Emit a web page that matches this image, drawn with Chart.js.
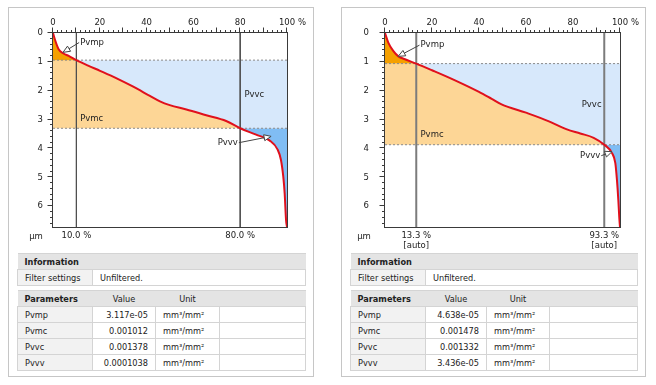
<!DOCTYPE html>
<html>
<head>
<meta charset="utf-8">
<script src="https://cdn.jsdelivr.net/npm/chart.js@4.4.1/dist/chart.umd.min.js"></script>
<style>
body { margin: 0; background: #fff; font-family: "DejaVu Sans", sans-serif; width: 656px; height: 385px; position: relative; overflow: hidden; }
.panel { position: absolute; top: 7px; height: 370px; border: 1px solid #c6c6c6; box-sizing: border-box; }
canvas { position: absolute; }
table { position: absolute; border-collapse: collapse; table-layout: fixed; font-size: 8.2px; color: #222; }
td { height: 15px; padding: 0 7px; border: 1px solid #d4d4d4; white-space: nowrap; overflow: hidden; }
tr.h td { background: #e4e4e4; border-left: none; border-right: none; font-weight: normal; }
tr.h td b { font-weight: bold; }
td.k { background: #f2f2f2; }
td.v { text-align: right; }
td.c { text-align: center; }
</style>
</head>
<body>
<div class="panel" style="left:8px;width:306px"></div>
<div class="panel" style="left:341px;width:305px"></div>
<canvas id="chartA" width="304" height="245" style="left:9px;top:8px"></canvas>
<canvas id="chartB" width="303" height="245" style="left:342px;top:8px"></canvas>
<div id="tables"></div>
<script>
// material ratio curves (material ratio %, depth µm)
const pctA = [0, 1, 2.4, 4.5, 6.7, 10, 15, 20.1, 27.2, 34.3, 41.4, 45.7, 49.9, 57, 65.5, 74, 80, 86.8, 92.5, 96, 97.4, 98.4, 99, 99.6, 100];
const depthA = [0, 0.27, 0.56, 0.71, 0.79, 0.94, 1.13, 1.31, 1.57, 1.86, 2.18, 2.37, 2.50, 2.65, 2.85, 3.05, 3.30, 3.52, 3.72, 4.04, 4.39, 4.97, 5.55, 6.48, 6.72];
const pctB = [0, 1.4, 3.5, 5.7, 8.5, 13.3, 20, 29.8, 40, 45.4, 49.6, 60, 69.5, 77.4, 83.1, 88.8, 93.3, 96.6, 98, 98.7, 99.3, 99.7, 100];
const depthB = [0, 0.33, 0.62, 0.81, 0.91, 1.06, 1.29, 1.64, 2.04, 2.28, 2.47, 2.76, 3.05, 3.34, 3.48, 3.63, 3.87, 4.16, 4.5, 5.09, 5.8, 6.4, 6.72];

// cut depths (µm) and material ratios (%)
const cutsA = [0.94, 3.30];
const ratiosA = [10.0, 80.0];
const cutsB = [1.06, 3.87];
const ratiosB = [13.3, 93.3];
const depthMax = 6.72;

const params = ['Pvmp', 'Pvmc', 'Pvvc', 'Pvvv'];
const valuesA = ['3.117e-05', '0.001012', '0.001378', '0.0001038'];
const valuesB = ['4.638e-05', '0.001478', '0.001332', '3.436e-05'];
const unit = 'mm³/mm²';

Chart.defaults.font.family = 'DejaVu Sans';
Chart.defaults.font.size = 8.5;
Chart.defaults.color = '#222';

const decor = {
  id: 'decor',
  afterDatasetsDraw(chart, args, o) {
    const ctx = chart.ctx, a = chart.chartArea, x = chart.scales.x, y = chart.scales.y;
    ctx.save();
    ctx.strokeStyle = '#3a3a3a';
    ctx.lineWidth = 1;
    ctx.strokeRect(a.left - 0.5, a.top - 0.5, a.right - a.left + 1, a.bottom - a.top + 1);
    ctx.beginPath();
    for (let v = 0; v <= 100; v += 2) {
      const px = Math.round(x.getPixelForValue(v)) - 0.5;
      const len = v % 10 === 0 ? 5 : 2.5;
      ctx.moveTo(px, a.top - 0.5);
      ctx.lineTo(px, a.top - 0.5 - len);
    }
    for (let i = 0; i <= 33; i++) {
      const py = Math.round(y.getPixelForValue(i / 5)) - 0.5;
      const len = i % 5 === 0 ? 5 : 2.5;
      ctx.moveTo(a.left - 0.5, py);
      ctx.lineTo(a.left - 0.5 - len, py);
    }
    ctx.stroke();

    ctx.font = '8.5px "DejaVu Sans"';
    ctx.fillStyle = '#222';
    ctx.textBaseline = 'middle';
    // unit after the 100 tick label
    ctx.textAlign = 'left';
    ctx.fillText('%', x.getPixelForValue(100) + ctx.measureText('100').width / 2 + 3, a.top - 10);
    // bottom labels
    ctx.textAlign = 'center';
    ctx.fillText('µm', a.left + o.umDx, a.bottom + 10);
    o.ratios.forEach(r => {
      const px = x.getPixelForValue(r);
      ctx.fillText(r.toFixed(1) + ' %', px, a.bottom + 9);
      if (o.auto) ctx.fillText('[auto]', px, a.bottom + 19);
    });

    // region labels and arrows
    o.notes.forEach(n => {
      const tx = x.getPixelForValue(n.tx), ty = y.getPixelForValue(n.ty);
      ctx.fillStyle = '#222';
      ctx.textAlign = n.align;
      ctx.fillText(n.text, tx, ty);
      if (n.ax === undefined) return;
      const sx = n.align === 'left' ? tx - 1 : tx + 1;
      const ex = x.getPixelForValue(n.ax), ey = y.getPixelForValue(n.ay);
      const dx = ex - sx, dy = ey - ty, d = Math.hypot(dx, dy);
      const ux = dx / d, uy = dy / d;
      ctx.strokeStyle = '#444';
      ctx.beginPath();
      ctx.moveTo(sx, ty);
      ctx.lineTo(ex - ux * 7, ey - uy * 7);
      ctx.stroke();
      ctx.beginPath();
      ctx.moveTo(ex, ey);
      ctx.lineTo(ex - ux * 7 - uy * 3, ey - uy * 7 + ux * 3);
      ctx.lineTo(ex - ux * 7 + uy * 3, ey - uy * 7 - ux * 3);
      ctx.closePath();
      ctx.fillStyle = '#fff';
      ctx.fill();
      ctx.stroke();
    });
    ctx.restore();
  }
};

function makeChart(id, pct, depth, cuts, ratios, lay) {
  const pts = pct.map((v, i) => ({x: v, y: depth[i]}));
  const up = cuts[0], lo = cuts[1];
  const mid = pts.map(p => ({x: p.x, y: Math.min(Math.max(p.y, up), lo)}));
  const peak = pts.filter(p => p.y <= up);
  const valley = pts.filter(p => p.y >= lo);
  const W = document.getElementById(id).width, H = document.getElementById(id).height;
  const cut = yv => ({data: [{x: 0, y: yv}, {x: 100, y: yv}], borderColor: '#8a8a8a', borderWidth: 1, borderDash: [2, 2]});
  const vline = xv => ({data: [{x: xv, y: 0}, {x: xv, y: depthMax}], borderColor: lay.vColor, borderWidth: lay.vWidth});
  const area = (d, col, to) => ({data: d, borderWidth: 0, backgroundColor: col, fill: {value: to}, cubicInterpolationMode: 'monotone'});
  return new Chart(document.getElementById(id), {
    type: 'line',
    data: {
      datasets: [
        {data: pts, borderColor: '#e0101c', borderWidth: 2, cubicInterpolationMode: 'monotone'},
        cut(up),
        cut(lo),
        vline(ratios[0]),
        vline(ratios[1]),
        area(peak, '#f5a000', up),
        area(mid, '#fdd696', lo),
        area(mid, '#d7e8fb', up),
        area(valley, '#80bdf4', lo)
      ]
    },
    options: {
      responsive: false,
      animation: false,
      devicePixelRatio: 1,
      layout: {padding: {left: 0, top: 0, right: W - lay.right, bottom: H - lay.bottom}},
      elements: {point: {radius: 0}, line: {tension: 0}},
      plugins: {legend: {display: false}, tooltip: {enabled: false}, decor: lay},
      scales: {
        x: {
          type: 'linear', position: 'top', min: 0, max: 100,
          grid: {display: false, drawTicks: false}, border: {display: false},
          ticks: {stepSize: 20, padding: 5, maxRotation: 0},
          afterFit: s => { s.height = lay.top; }
        },
        y: {
          type: 'linear', reverse: true, min: 0, max: depthMax,
          grid: {display: false, drawTicks: false}, border: {display: false},
          ticks: {stepSize: 1, padding: lay.yPad},
          afterBuildTicks: s => { s.ticks = s.ticks.filter(t => Number.isInteger(t.value)); },
          afterFit: s => { s.width = lay.left; }
        }
      }
    },
    plugins: [decor]
  });
}

makeChart('chartA', pctA, depthA, cutsA, ratiosA, {
  left: 44, right: 278, top: 25, bottom: 219, yPad: 10, umDx: -17,
  vColor: '#505050', vWidth: 1, ratios: ratiosA, auto: false,
  notes: [
    {text: 'Pvmp', tx: 11.6, ty: 0.33, ax: 4.3, ay: 0.67, align: 'left'},
    {text: 'Pvmc', tx: 11.6, ty: 2.97, align: 'left'},
    {text: 'Pvvc', tx: 81.8, ty: 2.15, align: 'left'},
    {text: 'Pvvv', tx: 79.0, ty: 3.80, ax: 93.2, ay: 3.58, align: 'right'}
  ]
});
makeChart('chartB', pctB, depthB, cutsB, ratiosB, {
  left: 43, right: 278, top: 25, bottom: 219, yPad: 16, umDx: -21,
  vColor: '#7c7c7c', vWidth: 2, ratios: ratiosB, auto: true,
  notes: [
    {text: 'Pvmp', tx: 15.1, ty: 0.42, ax: 5.6, ay: 0.81, align: 'left'},
    {text: 'Pvmc', tx: 15.1, ty: 3.52, align: 'left'},
    {text: 'Pvvc', tx: 83.7, ty: 2.48, align: 'left'},
    {text: 'Pvvv', tx: 91.6, ty: 4.25, ax: 96.6, ay: 4.11, align: 'right'}
  ]
});

function makeTables(left, widths, values) {
  const cols = '<colgroup>' + widths.map(w => '<col style="width:' + w + 'px">').join('') + '</colgroup>';
  const total = widths.reduce((s, w) => s + w, 0);
  let html = '<table style="left:' + left + 'px;top:253px;width:' + total + 'px">' + cols +
    '<tr class="h"><td colspan="4"><b>Information</b></td></tr>' +
    '<tr><td class="k">Filter settings</td><td colspan="3">Unfiltered.</td></tr></table>';
  html += '<table style="left:' + left + 'px;top:290px;width:' + total + 'px">' + cols +
    '<tr class="h"><td><b>Parameters</b></td><td class="c">Value</td><td class="c">Unit</td><td></td></tr>';
  params.forEach((p, i) => {
    html += '<tr><td class="k">' + p + '</td><td class="v">' + values[i] + '</td><td>' + unit + '</td><td></td></tr>';
  });
  html += '</table>';
  return html;
}
document.getElementById('tables').innerHTML =
  makeTables(17, [75, 63, 64, 86], valuesA) + makeTables(350, [75, 61, 63, 88], valuesB);
</script>
</body>
</html>
